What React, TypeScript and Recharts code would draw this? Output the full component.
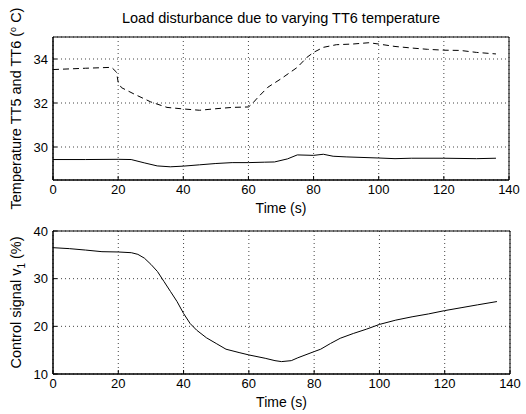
import React from 'react';
import { LineChart, Line, XAxis, YAxis, CartesianGrid, ReferenceArea } from 'recharts';

const FONT = '"Liberation Sans", Arial, Helvetica, sans-serif';

// TT6 (dashed) temperature
const tt6Time = [0, 5, 10, 18, 19.5, 20, 21, 25, 30, 35, 40, 45, 50, 55, 60, 61, 63, 66, 70, 75, 78, 80, 83, 87, 92, 97, 100, 105, 110, 115, 120, 125, 130, 136];
const tt6Values = [33.52, 33.55, 33.58, 33.62, 33.4, 32.95, 32.7, 32.4, 32.05, 31.8, 31.73, 31.67, 31.74, 31.8, 31.82, 31.94, 32.27, 32.72, 33.1, 33.62, 34.08, 34.3, 34.53, 34.65, 34.68, 34.74, 34.68, 34.57, 34.5, 34.44, 34.4, 34.39, 34.3, 34.23];

// TT5 (solid) temperature
const tt5Time = [0, 10, 20, 24, 28, 32, 36, 40, 45, 50, 55, 60, 65, 68, 72, 75, 80, 83, 86, 90, 100, 105, 110, 120, 130, 136];
const tt5Values = [29.43, 29.43, 29.44, 29.43, 29.28, 29.14, 29.1, 29.13, 29.19, 29.25, 29.29, 29.29, 29.31, 29.32, 29.46, 29.64, 29.62, 29.67, 29.58, 29.55, 29.5, 29.47, 29.49, 29.49, 29.47, 29.49];

// control signal v1
const ctrlTime = [0, 5, 10, 15, 20, 24, 26, 28, 30, 32, 34, 36, 38, 40, 42, 44, 47, 50, 53, 57, 60, 65, 68, 70, 73, 75, 80, 82, 85, 88, 92, 96, 100, 105, 110, 115, 120, 125, 130, 136];
const ctrlValues = [36.5, 36.3, 36.0, 35.66, 35.6, 35.45, 35.1, 34.3, 33.0, 31.5, 29.4, 27.3, 25.2, 22.7, 20.6, 19.2, 17.6, 16.4, 15.2, 14.5, 14.0, 13.3, 12.8, 12.6, 12.8, 13.4, 14.7, 15.2, 16.4, 17.5, 18.5, 19.4, 20.4, 21.3, 22.0, 22.6, 23.3, 23.9, 24.5, 25.2];

const timeTicks = [0, 20, 40, 60, 80, 100, 120, 140];
const tempTicks = [30, 32, 34];
const ctrlTicks = [10, 20, 30, 40];

const toPoints = (t: number[], v: number[]) => t.map((x, i) => ({ t: x, v: v[i] }));

const tickStyle = { fontSize: 13, fill: '#000', fontFamily: FONT };
const noLabel = () => '';
// matlab-style ticks point into the plot
const inTick = { tickSize: -4, tickMargin: 9, tickLine: { stroke: '#000' }, axisLine: { stroke: '#000' } };

const TempLabel = ({ viewBox }: any) => {
  const cx = viewBox.x + 8;
  const cy = viewBox.y + viewBox.height / 2;
  return (
    <text transform={`translate(${cx},${cy}) rotate(-90)`} textAnchor="middle" fontSize={14.5} fontFamily={FONT} fill="#000">
      <tspan>Temperature TT5 and TT6 (</tspan>
      <tspan dy={-5} fontSize={9}>o</tspan>
      <tspan dy={5}> C)</tspan>
    </text>
  );
};

const CtrlLabel = ({ viewBox }: any) => {
  const cx = viewBox.x + 8;
  const cy = viewBox.y + viewBox.height / 2;
  return (
    <text transform={`translate(${cx},${cy}) rotate(-90)`} textAnchor="middle" fontSize={14.5} fontFamily={FONT} fill="#000">
      <tspan>Control signal v</tspan>
      <tspan dy={4} fontSize={10}>1</tspan>
      <tspan dy={-4}> (%)</tspan>
    </text>
  );
};

const timeLabel = { value: 'Time (s)', position: 'insideBottom' as const, offset: 7, fill: '#000', fontSize: 14, fontFamily: FONT };

export default function App() {
  return (
    <div style={{ position: 'absolute', left: 0, top: 0, width: 526, height: 414, background: '#fff', fontFamily: FONT }}>
      <div style={{ position: 'absolute', left: 53, top: 10, width: 456, textAlign: 'center', fontSize: 14.5, color: '#000' }}>
        Load disturbance due to varying TT6 temperature
      </div>
      <div style={{ position: 'absolute', left: 0, top: 0 }}>
        <LineChart width={526} height={220} margin={{ top: 37, right: 17, left: 13, bottom: 0 }}>
          <CartesianGrid stroke="#444" strokeDasharray="1 3" />
          <XAxis type="number" dataKey="t" domain={[0, 140]} ticks={timeTicks} allowDataOverflow
            height={40} tick={tickStyle} {...inTick} label={timeLabel} />
          <XAxis xAxisId="top" orientation="top" type="number" domain={[0, 140]} ticks={timeTicks} allowDataOverflow
            height={0} tickFormatter={noLabel} {...inTick} />
          <YAxis type="number" dataKey="v" domain={[28.5, 35]} ticks={tempTicks} allowDataOverflow
            width={40} tick={tickStyle} {...inTick} label={<TempLabel />} />
          <YAxis yAxisId="right" orientation="right" type="number" domain={[28.5, 35]} ticks={tempTicks} allowDataOverflow
            width={0} tickFormatter={noLabel} {...inTick} />
          <ReferenceArea x1={0} x2={140} y1={28.5} y2={35} fill="none" stroke="#000" />
          <Line data={toPoints(tt6Time, tt6Values)} dataKey="v" stroke="#000" strokeWidth={1} strokeDasharray="6 4" dot={false} isAnimationActive={false} />
          <Line data={toPoints(tt5Time, tt5Values)} dataKey="v" stroke="#000" strokeWidth={1} dot={false} isAnimationActive={false} />
        </LineChart>
      </div>
      <div style={{ position: 'absolute', left: 0, top: 200 }}>
        <LineChart width={526} height={214} margin={{ top: 31, right: 16, left: 13, bottom: 0 }}>
          <CartesianGrid stroke="#444" strokeDasharray="1 3" />
          <XAxis type="number" dataKey="t" domain={[0, 140]} ticks={timeTicks} allowDataOverflow
            height={40} tick={tickStyle} {...inTick} label={timeLabel} />
          <XAxis xAxisId="top" orientation="top" type="number" domain={[0, 140]} ticks={timeTicks} allowDataOverflow
            height={0} tickFormatter={noLabel} {...inTick} />
          <YAxis type="number" dataKey="v" domain={[10, 40]} ticks={ctrlTicks} allowDataOverflow
            width={40} tick={tickStyle} {...inTick} label={<CtrlLabel />} />
          <YAxis yAxisId="right" orientation="right" type="number" domain={[10, 40]} ticks={ctrlTicks} allowDataOverflow
            width={0} tickFormatter={noLabel} {...inTick} />
          <ReferenceArea x1={0} x2={140} y1={10} y2={40} fill="none" stroke="#000" />
          <Line data={toPoints(ctrlTime, ctrlValues)} dataKey="v" stroke="#000" strokeWidth={1} dot={false} isAnimationActive={false} />
        </LineChart>
      </div>
    </div>
  );
}
